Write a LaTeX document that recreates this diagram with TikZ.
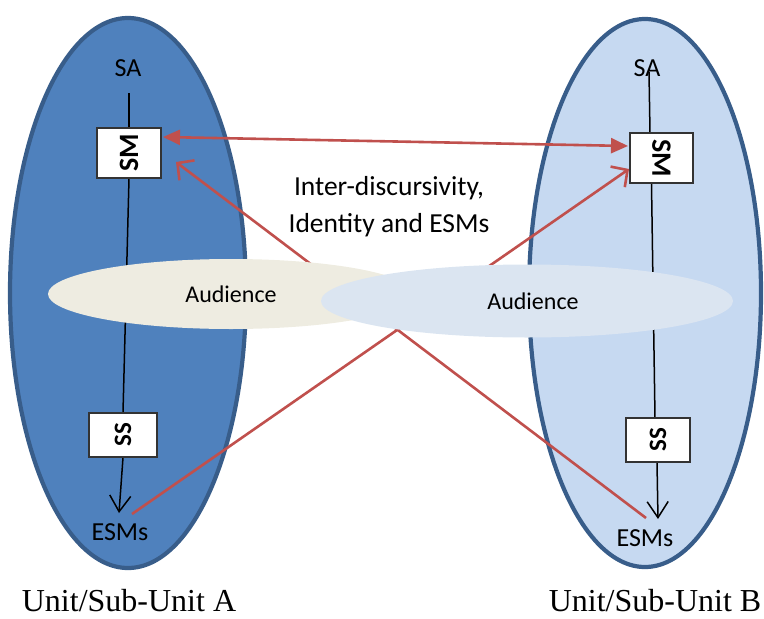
\documentclass[tikz,border=0pt]{standalone}
\usepackage{fontspec}
\usepackage{graphicx}
\setmainfont{Carlito}
\newfontfamily\timesf{Liberation Serif}
\usetikzlibrary{arrows.meta,shapes.geometric}
\definecolor{darkblue}{HTML}{4F81BD}
\definecolor{edgeblue}{HTML}{385D8A}
\definecolor{lightblue}{HTML}{C6D9F1}
\definecolor{beige}{HTML}{EEECE1}
\definecolor{paleblue}{HTML}{DBE5F1}
\definecolor{redline}{HTML}{C0504D}
\begin{document}
\begin{tikzpicture}[x=1pt,y=-1pt,
  unitell/.style={draw=edgeblue, line width=4.2pt},
  audell/.style={ellipse, inner sep=0pt, font=\fontsize{24}{28}\selectfont},
  smbox/.style={draw=black!80, fill=white, line width=1.3pt, inner sep=0pt, font=\fontsize{28}{32}\selectfont\bfseries},
  ssbox/.style={smbox, font=\fontsize{25}{29}\selectfont\bfseries},
  lbl/.style={font=\fontsize{26}{30}\selectfont, inner sep=0pt},
  flow/.style={line width=1.5pt, black},
  flowarrow/.style={flow, -{Straight Barb[length=16pt,width=21pt,line width=1.5pt]}},
  redx/.style={redline, line width=2.6pt, -{Straight Barb[length=12pt,width=25pt,line width=2.6pt]}},
  reddouble/.style={redline, line width=2.6pt, {Triangle[length=17pt,width=15pt]}-{Triangle[length=17pt,width=15pt]}},
  unitlbl/.style={font=\timesf\fontsize{32}{35}\selectfont, inner sep=0pt, anchor=base}
]
\useasboundingbox (0,0) rectangle (764,619);

% big unit ellipses
\fill[darkblue] (128,293) ellipse [x radius=118pt, y radius=275pt];
\draw[unitell] (128,293) ellipse [x radius=118pt, y radius=275pt];
\fill[lightblue] (645,293) ellipse [x radius=116pt, y radius=274pt];
\draw[unitell] (645,293) ellipse [x radius=116pt, y radius=274pt];

% texts inside units
\node[lbl] (saA) at (128,68) {SA};
\node[lbl] (saB) at (647,68) {SA};
\node[lbl] (esmA) at (120,532) {ESMs};
\node[lbl] (esmB) at (645,538) {ESMs};

% boxes (placement)
\node[smbox, minimum width=64pt, minimum height=50pt] (smA) at (129,153) {\rotatebox{90}{SM}};
\node[smbox, minimum width=63pt, minimum height=50pt] (smB) at (661.5,158) {\rotatebox{-90}{SM}};
\node[ssbox, minimum width=68pt, minimum height=44pt] (ssA) at (123,435) {\rotatebox{90}{SS}};
\node[ssbox, minimum width=64pt, minimum height=44pt] (ssB) at (658,440) {\rotatebox{90}{SS}};

% coordinates
\coordinate (lA0) at (129,93);
\coordinate (tipA) at (119,513);
\coordinate (lB0) at (649,72);
\coordinate (tipB) at (658,519);
\coordinate (r1s) at (132,514);
\coordinate (r1e) at (629,169);
\coordinate (r2s) at (646,518);
\coordinate (r2e) at (176,162);
\coordinate (dA) at (163,137);
\coordinate (dB) at (628,146);

% vertical flow lines
\draw[flow] (lA0) -- (smA.north);
\draw[flow] (smA.south) -- (ssA.north);
\draw[flowarrow] (ssA.south) -- (tipA);
\draw[flow] (lB0) -- ([xshift=-11.5pt]smB.north);
\draw[flow] ([xshift=-10pt]smB.south) -- ([xshift=-3pt]ssB.north);
\draw[flowarrow] ([xshift=-1pt]ssB.south) -- (tipB);

% red connectors
\draw[redx] (r1s) -- (r1e);
\draw[redx] (r2s) -- (r2e);
\draw[reddouble] (dA) -- (dB);

% redraw boxes on top
\node[smbox, minimum width=64pt, minimum height=50pt] at (smA) {\rotatebox{90}{SM}};
\node[smbox, minimum width=63pt, minimum height=50pt] at (smB) {\rotatebox{-90}{SM}};
\node[ssbox, minimum width=68pt, minimum height=44pt] at (ssA) {\rotatebox{90}{SS}};
\node[ssbox, minimum width=64pt, minimum height=44pt] at (ssB) {\rotatebox{90}{SS}};

% audience ellipses
\node[audell, fill=beige, minimum width=366pt, minimum height=70pt] (audA) at (231,294) {Audience};
\node[audell, fill=paleblue, minimum width=412pt, minimum height=73pt] (audB) at (527,301) {\hspace*{12pt}Audience};

% central text
\node[font=\fontsize{27.5}{37}\selectfont, align=center, inner sep=0pt] (inter) at (389,207) {Inter-discursivity,\\Identity and ESMs};

% unit labels
\node[unitlbl] (uA) at (129,611) {Unit/Sub-Unit A};
\node[unitlbl] (uB) at (655,611) {Unit/Sub-Unit B};
\end{tikzpicture}
\end{document}
